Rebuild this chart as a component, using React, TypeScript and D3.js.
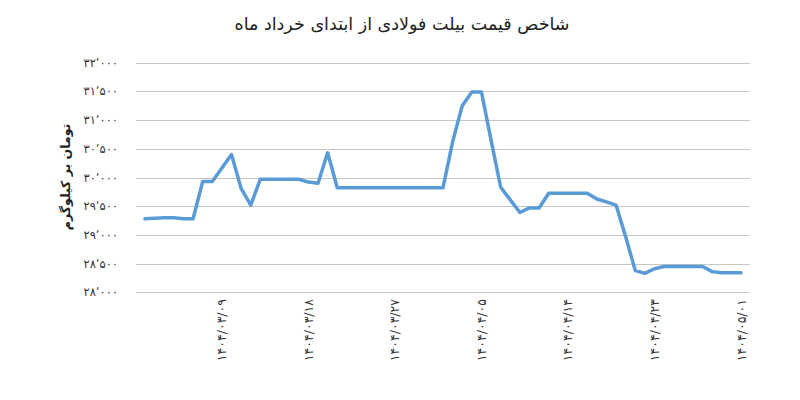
import React, { useRef, useEffect } from 'react'
import * as d3 from 'd3'

// daily price index, 1404/03/01 .. 1404/05/01 (toman per kg)
const values = [
  29280, 29290, 29300, 29300, 29280, 29280, 29930, 29930, 30165, 30400,
  29810, 29520, 29970, 29970, 29970, 29970, 29970, 29920, 29900, 30430,
  29820, 29820, 29820, 29820, 29820, 29820, 29820, 29820, 29820, 29820,
  29820, 29820, 30620, 31250, 31490, 31490, 30650, 29830, 29610, 29390,
  29470, 29470, 29725, 29725, 29725, 29725, 29725, 29625, 29575, 29520,
  28970, 28380, 28330, 28410, 28450, 28450, 28450, 28450, 28450, 28360,
  28340, 28340, 28340,
]

// x labels every 9 days
const tickIndex = [8, 17, 26, 35, 44, 53, 62]
const tickLabels = [
  '۱۴۰۴/۰۳/۰۹',
  '۱۴۰۴/۰۳/۱۸',
  '۱۴۰۴/۰۳/۲۷',
  '۱۴۰۴/۰۴/۰۵',
  '۱۴۰۴/۰۴/۱۴',
  '۱۴۰۴/۰۴/۲۳',
  '۱۴۰۴/۰۵/۰۱',
]

const yTicks = [28000, 28500, 29000, 29500, 30000, 30500, 31000, 31500, 32000]

const title = 'شاخص قیمت بیلت فولادی از ابتدای خرداد ماه'
const yTitle = 'تومان بر کیلوگرم'

const faDigits = '۰۱۲۳۴۵۶۷۸۹'
const toFa = (n: number) => {
  const s = String(n)
  const head = s.slice(0, s.length - 3)
  const tail = s.slice(-3)
  return (head + '٬' + tail).replace(/[0-9]/g, (d) => faDigits[+d])
}

function App() {
  const svgRef = useRef(null)

  useEffect(() => {
    const svg = d3.select(svgRef.current)
    svg.selectAll('*').remove()

    const font = 'DejaVu Sans, sans-serif'
    const plot = { left: 136, right: 750, top: 62.7, bottom: 292.3 }

    const x = d3
      .scaleLinear()
      .domain([0, values.length - 1])
      .range([145, 741])
    const y = d3.scaleLinear().domain([28000, 32000]).range([plot.bottom, plot.top])

    //background
    svg.append('rect').attr('width', 800).attr('height', 400).attr('fill', '#fff')

    //gridlines + y labels
    const grid = svg.append('g')
    grid
      .selectAll('line')
      .data(yTicks)
      .join('line')
      .attr('x1', plot.left)
      .attr('x2', plot.right)
      .attr('y1', (d) => Math.round(y(d)) + 0.5)
      .attr('y2', (d) => Math.round(y(d)) + 0.5)
      .attr('stroke', '#c6c6c6')
      .attr('stroke-width', 1)

    grid
      .selectAll('text')
      .data(yTicks)
      .join('text')
      .attr('x', 118)
      .attr('y', (d) => y(d))
      .attr('dy', '0.35em')
      .attr('text-anchor', 'end')
      .attr('font-family', font)
      .attr('font-size', 11.5)
      .attr('fill', '#333')
      .text((d) => toFa(d))

    //x labels (vertical)
    svg
      .append('g')
      .selectAll('text')
      .data(tickIndex)
      .join('text')
      .attr('transform', (d) => `translate(${x(d) + 4.5},299) rotate(-90)`)
      .attr('text-anchor', 'end')
      .attr('direction', 'ltr')
      .attr('font-family', font)
      .attr('font-size', 12.5)
      .attr('letter-spacing', 1)
      .attr('fill', '#333')
      .text((d, i) => tickLabels[i])

    //line
    const line = d3
      .line<number>()
      .x((d, i) => x(i))
      .y((d) => y(d))
    svg
      .append('path')
      .datum(values)
      .attr('d', line)
      .attr('fill', 'none')
      .attr('stroke', '#5b9bd5')
      .attr('stroke-width', 3.5)
      .attr('stroke-linejoin', 'round')
      .attr('stroke-linecap', 'round')

    //titles
    svg
      .append('text')
      .attr('x', 402)
      .attr('y', 30)
      .attr('text-anchor', 'middle')
      .attr('direction', 'rtl')
      .attr('font-family', font)
      .attr('font-size', 17.5)
      .attr('fill', '#222')
      .text(title)

    svg
      .append('text')
      .attr('transform', 'translate(70,177) rotate(-90)')
      .attr('text-anchor', 'middle')
      .attr('direction', 'rtl')
      .attr('font-family', font)
      .attr('font-size', 12.5)
      .attr('font-weight', 'bold')
      .attr('fill', '#222')
      .text(yTitle)
  }, [])

  return (
    <svg
      ref={svgRef}
      width={800}
      height={400}
      style={{ position: 'absolute', left: 0, top: 0 }}
    />
  )
}

export default App
